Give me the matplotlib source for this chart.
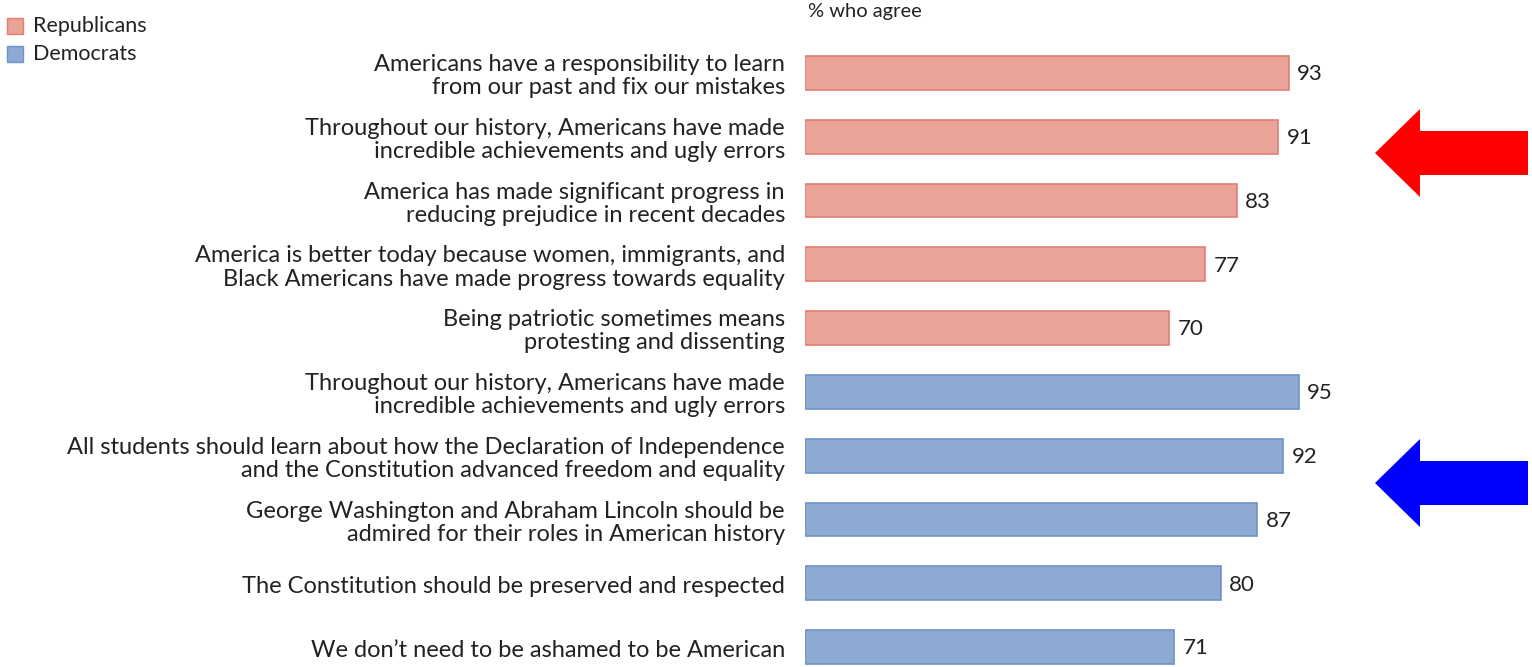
import matplotlib.pyplot as plt
from matplotlib.patches import Polygon, Rectangle

# statements and share who agree
labels = [
    'Americans have a responsibility to learn\nfrom our past and fix our mistakes',
    'Throughout our history, Americans have made\nincredible achievements and ugly errors',
    'America has made significant progress in\nreducing prejudice in recent decades',
    'America is better today because women, immigrants, and\nBlack Americans have made progress towards equality',
    'Being patriotic sometimes means\nprotesting and dissenting',
    'Throughout our history, Americans have made\nincredible achievements and ugly errors',
    'All students should learn about how the Declaration of Independence\nand the Constitution advanced freedom and equality',
    'George Washington and Abraham Lincoln should be\nadmired for their roles in American history',
    'The Constitution should be preserved and respected',
    'We don\u2019t need to be ashamed to be American',
]
values = [93, 91, 83, 77, 70, 95, 92, 87, 80, 71]
groups = ['Republicans'] * 5 + ['Democrats'] * 5

fill = {'Republicans': '#E9A397', 'Democrats': '#8DAAD3'}
edge = {'Republicans': '#E27E72', 'Democrats': '#6E93C4'}
txt = '#222222'

plt.rcParams['font.family'] = ['Lato', 'DejaVu Sans']

W, H = 1532, 667
fig = plt.figure(figsize=(W / 100, H / 100), dpi=100)
ax = fig.add_axes([805 / W, 0, 1 - 805 / W, 1])

y = list(range(len(values)))
ax.barh(y, values, height=0.53,
        color=[fill[g] for g in groups],
        edgecolor=[edge[g] for g in groups], linewidth=1.2)
ax.set_xlim(0, (W - 805) / 5.2)
ax.set_ylim(9.313, -1.145)
ax.axis('off')

for i, (lab, v) in enumerate(zip(labels, values)):
    ax.text(-3.85, i + 0.05, lab, ha='right', va='center', fontsize=17,
            color=txt, linespacing=1.13)
    ax.text(v + 1.6, i + 0.02, str(v), ha='left', va='center', fontsize=16, color=txt)

fig.text(808 / W, 1 - 12 / H, '% who agree', ha='left', va='center',
         fontsize=14.5, color=txt)

# legend
for k, g in enumerate(['Republicans', 'Democrats']):
    yc = 26 + k * 28
    fig.patches.append(Rectangle((7 / W, 1 - (yc + 8) / H), 16 / W, 16 / H,
                                 transform=fig.transFigure,
                                 facecolor=fill[g], edgecolor=edge[g], lw=1))
    fig.text(33 / W, 1 - yc / H, g, ha='left', va='center',
             fontsize=15.5, color=txt)

# arrows
def arrow(yc, color):
    pts = [(1375, yc), (1420, yc - 44), (1420, yc - 22), (1528, yc - 22),
           (1528, yc + 22), (1420, yc + 22), (1420, yc + 44)]
    fig.patches.append(Polygon([(px / W, 1 - py / H) for px, py in pts],
                               closed=True, transform=fig.transFigure,
                               facecolor=color, edgecolor='none'))

arrow(153, '#FF0000')
arrow(483, '#0000FF')

fig.savefig('out.png', dpi=100)
